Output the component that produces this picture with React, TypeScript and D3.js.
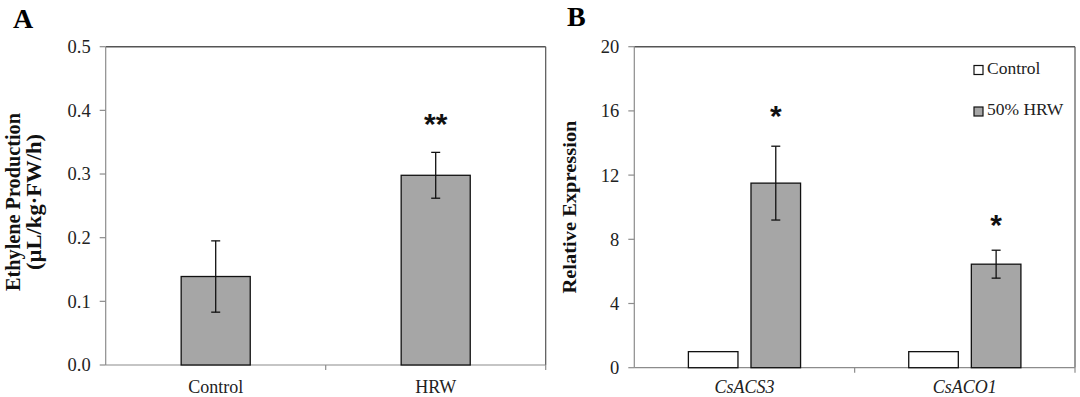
import React, { useEffect, useRef } from 'react'
import * as d3 from 'd3'

// panel A
const ethCategories = ['Control', 'HRW']
const ethValues = [0.139, 0.298]
const ethErrors = [0.056, 0.036]
const ethStars = ['', '**']
const ethTicks = [0, 0.1, 0.2, 0.3, 0.4, 0.5]

// panel B
const genes = ['CsACS3', 'CsACO1']
const seriesNames = ['Control', '50% HRW']
const controlExpr = [1.0, 1.0]
const hrwExpr = [11.5, 6.45]
const hrwErrors = [2.3, 0.87]
const exprStars = ['*', '*']
const exprTicks = [0, 4, 8, 12, 16, 20]

const FONT = '"Liberation Serif", "Times New Roman", serif'
const BAR_FILL = '#a6a6a6'
const AXIS_GRAY = '#8c8c8c'
const FRAME = '#555'

function App() {
  const ref = useRef<SVGSVGElement | null>(null)

  useEffect(() => {
    const svg = d3.select(ref.current)
    svg.selectAll('*').remove()
    drawPanelA(svg)
    drawPanelB(svg)
  }, [])

  return (
    <svg
      ref={ref}
      width={1080}
      height={397}
      style={{ position: 'absolute', left: 0, top: 0, background: '#fff' }}
    />
  )
}

function frame(g, x0, x1, y0, y1) {
  // top + right border
  g.append('line').attr('x1', x0).attr('x2', x1).attr('y1', y1).attr('y2', y1)
    .attr('stroke', FRAME).attr('stroke-width', 1.5)
  g.append('line').attr('x1', x1).attr('x2', x1).attr('y1', y1).attr('y2', y0)
    .attr('stroke', FRAME).attr('stroke-width', 1.2)
  // left axis + bottom axis
  g.append('line').attr('x1', x0).attr('x2', x0).attr('y1', y1).attr('y2', y0)
    .attr('stroke', AXIS_GRAY).attr('stroke-width', 1.2)
  g.append('line').attr('x1', x0).attr('x2', x1).attr('y1', y0).attr('y2', y0)
    .attr('stroke', AXIS_GRAY).attr('stroke-width', 1.2)
}

function yAxis(g, y, ticks, x0, fmt) {
  ticks.forEach(t => {
    g.append('line').attr('x1', x0 - 6).attr('x2', x0).attr('y1', y(t)).attr('y2', y(t))
      .attr('stroke', AXIS_GRAY).attr('stroke-width', 1.2)
    g.append('text').attr('x', x0 - 15).attr('y', y(t)).attr('dy', '0.35em')
      .attr('text-anchor', 'end').attr('font-family', FONT).attr('font-size', 18.5)
      .attr('fill', '#222').text(fmt(t))
  })
}

function errorBar(g, cx, y, v, e) {
  const cap = 4.5
  g.append('line').attr('x1', cx).attr('x2', cx).attr('y1', y(v + e)).attr('y2', y(v - e))
    .attr('stroke', '#111').attr('stroke-width', 1.3)
  ;[v + e, v - e].forEach(d => {
    g.append('line').attr('x1', cx - cap).attr('x2', cx + cap).attr('y1', y(d)).attr('y2', y(d))
      .attr('stroke', '#111').attr('stroke-width', 1.3)
  })
}

function star(g, cx, cy, s) {
  g.append('text').attr('x', cx).attr('y', cy).attr('text-anchor', 'middle')
    .attr('font-family', '"Liberation Sans", Arial, sans-serif').attr('font-weight', 'bold')
    .attr('font-size', 30).attr('fill', '#111').text(s)
}

/**
 * A: ethylene production
 */
function drawPanelA(svg) {
  const left = 105.7, right = 545.7, top = 46.7, bottom = 365
  const g = svg.append('g')

  const x = d3.scaleBand().domain(ethCategories).range([left, right])
    .paddingInner(0.686).paddingOuter(0.343)
  const y = d3.scaleLinear().domain([0, 0.5]).range([bottom, top])

  frame(g, left, right, bottom, top)
  yAxis(g, y, ethTicks, left, d => d3.format('.1f')(d))

  // category dividers on x axis
  ;[left + (right - left) / 2, right].forEach(px => {
    g.append('line').attr('x1', px).attr('x2', px).attr('y1', bottom).attr('y2', bottom + 5)
      .attr('stroke', AXIS_GRAY).attr('stroke-width', 1.2)
  })

  g.selectAll('rect.bar')
    .data(ethValues)
    .enter()
    .append('rect')
    .attr('class', 'bar')
    .attr('x', (d, i) => x(ethCategories[i]))
    .attr('y', d => y(d))
    .attr('width', x.bandwidth())
    .attr('height', d => bottom - y(d))
    .attr('fill', BAR_FILL)
    .attr('stroke', '#111')
    .attr('stroke-width', 1.3)

  ethValues.forEach((v, i) => {
    const cx = x(ethCategories[i]) + x.bandwidth() / 2
    errorBar(g, cx, y, v, ethErrors[i])
    if (ethStars[i]) star(g, cx, y(v + ethErrors[i]) - 18, ethStars[i])
    g.append('text').attr('x', cx).attr('y', 393).attr('text-anchor', 'middle')
      .attr('font-family', FONT).attr('font-size', 18).attr('fill', '#222')
      .text(ethCategories[i])
  })

  g.append('text').attr('x', 13).attr('y', 28).attr('font-family', FONT)
    .attr('font-weight', 'bold').attr('font-size', 28).attr('fill', '#000').text('A')

  const cy = 202
  g.append('text')
    .attr('transform', 'translate(20,' + cy + ') rotate(-90)')
    .attr('text-anchor', 'middle').attr('font-family', FONT).attr('font-weight', 'bold')
    .attr('font-size', 20).attr('fill', '#111')
    .attr('textLength', 178).attr('lengthAdjust', 'spacingAndGlyphs')
    .text('Ethylene Production')
  g.append('text')
    .attr('transform', 'translate(41,' + cy + ') rotate(-90)')
    .attr('text-anchor', 'middle').attr('font-family', FONT).attr('font-weight', 'bold')
    .attr('font-size', 20).attr('fill', '#111')
    .attr('textLength', 136).attr('lengthAdjust', 'spacingAndGlyphs')
    .text('(µL/kg·FW/h)')
}

/**
 * B: relative expression
 */
function drawPanelB(svg) {
  const left = 634.3, right = 1075, top = 46.7, bottom = 367.7
  const g = svg.append('g')

  const x0 = d3.scaleBand().domain(genes).range([left, right])
  const x1 = d3.scaleBand().domain(seriesNames).range([0, x0.bandwidth()])
    .paddingInner(0.208).paddingOuter(0.864)
  const y = d3.scaleLinear().domain([0, 20]).range([bottom, top])

  frame(g, left, right, bottom, top)
  yAxis(g, y, exprTicks, left, d => String(d))

  ;[left + (right - left) / 2, right].forEach(px => {
    g.append('line').attr('x1', px).attr('x2', px).attr('y1', bottom).attr('y2', bottom + 5)
      .attr('stroke', AXIS_GRAY).attr('stroke-width', 1.2)
  })

  const seriesData = [controlExpr, hrwExpr]
  const fills = ['#fff', BAR_FILL]

  seriesData.forEach((vals, s) => {
    g.selectAll('rect.s' + s)
      .data(vals)
      .enter()
      .append('rect')
      .attr('class', 's' + s)
      .attr('x', (d, i) => x0(genes[i]) + x1(seriesNames[s]))
      .attr('y', d => y(d))
      .attr('width', x1.bandwidth())
      .attr('height', d => bottom - y(d))
      .attr('fill', fills[s])
      .attr('stroke', '#111')
      .attr('stroke-width', 1.3)
  })

  genes.forEach((gene, i) => {
    const cx = x0(gene) + x1(seriesNames[1]) + x1.bandwidth() / 2
    errorBar(g, cx, y, hrwExpr[i], hrwErrors[i])
    star(g, cx, y(hrwExpr[i] + hrwErrors[i]) - (i === 0 ? 20 : 15), exprStars[i])
    g.append('text').attr('x', x0(gene) + x0.bandwidth() / 2).attr('y', 393)
      .attr('text-anchor', 'middle').attr('font-family', FONT).attr('font-style', 'italic')
      .attr('font-size', 18).attr('fill', '#222').text(gene)
  })

  // legend
  seriesNames.forEach((name, i) => {
    const base = 73.5 + i * 41.5
    g.append('rect').attr('x', 974).attr('y', base - 8).attr('width', 9).attr('height', 9)
      .attr('fill', fills[i]).attr('stroke', '#111').attr('stroke-width', 1.2)
    g.append('text').attr('x', 987).attr('y', base).attr('font-family', FONT)
      .attr('font-size', 17.5).attr('fill', '#222').text(name)
  })

  g.append('text').attr('x', 567).attr('y', 26).attr('font-family', FONT)
    .attr('font-weight', 'bold').attr('font-size', 28).attr('fill', '#000').text('B')

  g.append('text')
    .attr('transform', 'translate(576,' + 207 + ') rotate(-90)')
    .attr('text-anchor', 'middle').attr('font-family', FONT).attr('font-weight', 'bold')
    .attr('font-size', 18).attr('fill', '#111')
    .attr('textLength', 173).attr('lengthAdjust', 'spacingAndGlyphs')
    .text('Relative Expression')
}

export default App
